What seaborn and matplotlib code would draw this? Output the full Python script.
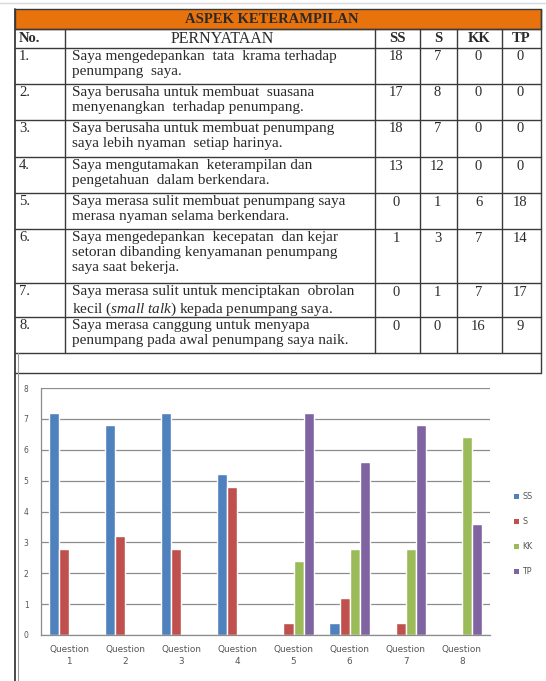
import numpy as np
import pandas as pd
import matplotlib
matplotlib.use("Agg")
import matplotlib.pyplot as plt
import seaborn as sns
from matplotlib.patches import Rectangle

# ---------------- data ----------------
title = "ASPEK KETERAMPILAN"
headers = ["No.", "PERNYATAAN", "SS", "S", "KK", "TP"]
row_numbers = ["1.", "2.", "3.", "4.", "5.", "6.", "7.", "8."]
statements = [
    "Saya mengedepankan  tata  krama terhadap\npenumpang  saya.",
    "Saya berusaha untuk membuat  suasana\nmenyenangkan  terhadap penumpang.",
    "Saya berusaha untuk membuat penumpang\nsaya lebih nyaman  setiap harinya.",
    "Saya mengutamakan  keterampilan dan\npengetahuan  dalam berkendara.",
    "Saya merasa sulit membuat penumpang saya\nmerasa nyaman selama berkendara.",
    "Saya mengedepankan  kecepatan  dan kejar\nsetoran dibanding kenyamanan penumpang\nsaya saat bekerja.",
    "Saya merasa sulit untuk menciptakan  obrolan\nkecil ($\\mathit{small\\ talk}$) kepada penumpang saya.",
    "Saya merasa canggung untuk menyapa\npenumpang pada awal penumpang saya naik.",
]
ss_counts = [18, 17, 18, 13, 0, 1, 0, 0]
s_counts = [7, 8, 7, 12, 1, 3, 1, 0]
kk_counts = [0, 0, 0, 0, 6, 7, 7, 16]
tp_counts = [0, 0, 0, 0, 18, 14, 17, 9]

categories = ["Question\n1", "Question\n2", "Question\n3", "Question\n4",
              "Question\n5", "Question\n6", "Question\n7", "Question\n8"]
series = ["SS", "S", "KK", "TP"]
ss_vals = [7.2, 6.8, 7.2, 5.2, 0.0, 0.4, 0.0, 0.0]
s_vals = [2.8, 3.2, 2.8, 4.8, 0.4, 1.2, 0.4, 0.0]
kk_vals = [0.0, 0.0, 0.0, 0.0, 2.4, 2.8, 2.8, 6.4]
tp_vals = [0.0, 0.0, 0.0, 0.0, 7.2, 5.6, 6.8, 3.6]
y_ticks = [0, 1, 2, 3, 4, 5, 6, 7, 8]

colors = ["#4F81BD", "#C0504D", "#9BBB59", "#8064A2"]

# ---------------- style ----------------
sns.set_theme(style="white")
plt.rcParams["font.family"] = ["Liberation Serif", "DejaVu Serif"]
plt.rcParams["mathtext.fontset"] = "custom"
plt.rcParams["mathtext.rm"] = "Liberation Serif"
plt.rcParams["mathtext.it"] = "Liberation Serif:italic"

W, H = 546, 681
fig = plt.figure(figsize=(W / 100, H / 100), dpi=100)
fig.patch.set_facecolor("white")

# full-figure overlay in pixel coordinates for the table
tab = fig.add_axes([0, 0, 1, 1])
tab.set_xlim(0, W)
tab.set_ylim(H, 0)
tab.axis("off")

line_c = "#3a3a3a"
text_c = "#2a2a2a"

# faint top border
tab.plot([0, W], [3, 3], color="#d9d9d9", lw=1)

col_x = [15, 65, 375, 420, 457, 502, 541]
row_y = [48, 84, 120, 157, 193, 229, 283, 317, 353]

# orange title band
tab.add_patch(Rectangle((col_x[0], 9), col_x[-1] - col_x[0], 20,
                        facecolor="#E8720C", edgecolor=line_c, lw=1))
tab.text(272, 19.5, title, ha="center", va="center",
         fontsize=10.5, fontweight="bold", color=text_c)

# horizontal lines
for y in [29] + row_y + [373]:
    tab.plot([col_x[0], col_x[-1]], [y, y], color=line_c, lw=1)
# vertical lines of the table
for x in col_x[1:-1]:
    tab.plot([x, x], [29, 353], color=line_c, lw=1)
tab.plot([col_x[-1], col_x[-1]], [9, 373], color=line_c, lw=1)
# left border (double line) down to the bottom
tab.plot([col_x[0], col_x[0]], [9, H], color=line_c, lw=1.3)
tab.plot([col_x[0] + 2.5, col_x[0] + 2.5], [353, H], color="#9a9a9a", lw=0.8)

# header row
hy = 39
tab.text(19, hy, headers[0], ha="left", va="center", fontsize=10.5,
         fontweight="bold", color=text_c)
tab.text(222, hy, headers[1], ha="center", va="center",
         fontsize=11.5, color=text_c)
for j, h in enumerate(headers[2:]):
    cx = (col_x[2 + j] + col_x[3 + j]) / 2
    tab.text(cx, hy, h, ha="center", va="center", fontsize=10.5,
             fontweight="bold", color=text_c)

# body rows
for i in range(len(row_numbers)):
    top = row_y[i] + 2
    tab.text(19, top, row_numbers[i], ha="left", va="top", fontsize=10.5,
             color=text_c)
    tab.text(72, top, statements[i], ha="left", va="top", fontsize=11,
             color=text_c, linespacing=1.18)
    for j, vals in enumerate([ss_counts, s_counts, kk_counts, tp_counts]):
        cx = (col_x[2 + j] + col_x[3 + j]) / 2 - 1
        tab.text(cx, top + 0.5, str(vals[i]), ha="center", va="top",
                 fontsize=10.5, color=text_c)

# ---------------- chart ----------------
def rect(x0, y0, x1, y1):
    return [x0 / W, 1 - y1 / H, (x1 - x0) / W, (y1 - y0) / H]

ax = fig.add_axes(rect(41, 388, 490, 635))
ax.set_facecolor("none")

df = pd.DataFrame({
    "Question": categories * 4,
    "Nilai": ss_vals + s_vals + kk_vals + tp_vals,
    "Seri": [s for s in series for _ in categories],
})
sns.barplot(data=df, x="Question", y="Nilai", hue="Seri", order=categories,
            hue_order=series, palette=colors, width=0.72, saturation=1,
            ax=ax, legend=False)

ax.set_ylim(0, 8)
ax.set_xlim(-0.5, len(categories) - 0.5)
ax.set_yticks(y_ticks)
ax.set_xlabel("")
ax.set_ylabel("")
ax.yaxis.grid(True, color="#8c8c8c", lw=0.9)
ax.xaxis.grid(False)
ax.set_axisbelow(True)
for sp in ["top", "right"]:
    ax.spines[sp].set_visible(False)
for sp in ["left", "bottom"]:
    ax.spines[sp].set_color("#8c8c8c")
    ax.spines[sp].set_linewidth(0.9)

sans = ["DejaVu Sans"]
ax.tick_params(axis="y", which="major", length=4, width=0.8, color="#8c8c8c",
               direction="out", pad=5, labelsize=5.5, labelcolor="#555555")
ax.tick_params(axis="x", which="major", length=0, pad=7, labelsize=6.4,
               labelcolor="#555555")
ax.set_xticks(np.arange(-0.5, len(categories), 1.0), minor=True)
ax.tick_params(axis="x", which="minor", length=4, width=0.8, color="#8c8c8c",
               direction="out")
for lab in ax.get_xticklabels() + ax.get_yticklabels():
    lab.set_family(sans)
    lab.set_linespacing(1.45)

handles = [Rectangle((0, 0), 1, 1, facecolor=c, edgecolor="none") for c in colors]
leg = fig.legend(handles, series, loc="upper left",
                 bbox_to_anchor=(510 / W, 1 - 488 / H), frameon=False,
                 handlelength=0.6, handleheight=0.6, handletextpad=0.4,
                 labelspacing=2.0, borderpad=0,
                 prop={"family": "DejaVu Sans", "size": 5.8})
for t in leg.get_texts():
    t.set_color("#555555")

fig.savefig("out.png", dpi=100, facecolor="white")
